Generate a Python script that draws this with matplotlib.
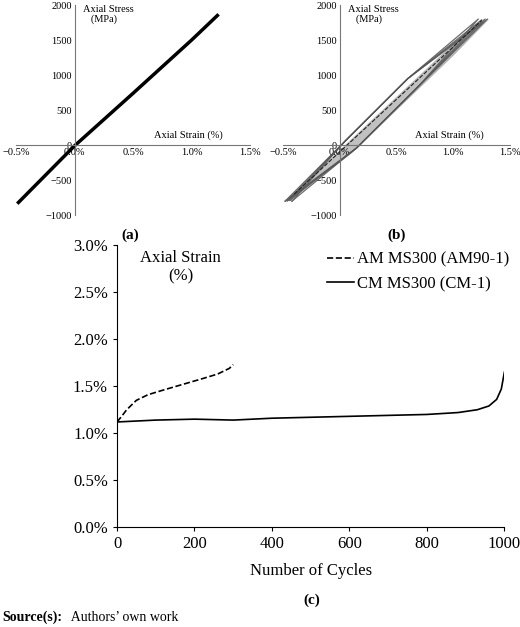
import numpy as np
import matplotlib.pyplot as plt

plt.rcParams['font.family'] = ['Liberation Serif', 'DejaVu Serif']

# (a) stress-strain, essentially a straight line
a_strain = [-0.48, 0.0, 0.5, 1.0, 1.22]
a_stress = [-820, -10, 740, 1500, 1850]

# (b) hysteresis loops
b_min = [-0.48, -0.46, -0.44, -0.42]
b_max = [1.22, 1.25, 1.28, 1.30]
b_stress_min = [-800, -795, -790, -800]
b_stress_max = [1800, 1790, 1800, 1800]

# (c) axial strain vs cycles
am_cycles = [0, 10, 25, 50, 80, 120, 170, 220, 260, 290, 300]
am_strain = [1.12, 1.17, 1.25, 1.35, 1.41, 1.46, 1.52, 1.58, 1.63, 1.69, 1.73]
cm_cycles = [0, 50, 100, 200, 300, 400, 500, 600, 700, 800, 880, 930, 960, 980, 992, 1000]
cm_strain = [1.12, 1.13, 1.14, 1.15, 1.14, 1.16, 1.17, 1.18, 1.19, 1.20, 1.22, 1.25, 1.29, 1.36, 1.47, 1.65]

fig = plt.figure(figsize=(5.2, 6.27), dpi=100)


def style_small(ax):
    ax.set_xlim(-0.5, 1.5)
    ax.set_ylim(-1000, 2000)
    ax.spines['left'].set_position(('data', 0))
    ax.spines['bottom'].set_position(('data', 0))
    ax.spines['right'].set_visible(False)
    ax.spines['top'].set_visible(False)
    for s in ['left', 'bottom']:
        ax.spines[s].set_color('#777777')
    ax.set_xticks([-0.5, 0, 0.5, 1.0, 1.5])
    ax.set_xticklabels(['\u22120.5%', '0.0%', '0.5%', '1.0%', '1.5%'], fontsize=7.5)
    ax.set_yticks([-1000, -500, 0, 500, 1000, 1500, 2000])
    ax.set_yticklabels(['\u22121000', '\u2212500', '0', '500', '1000', '1500', '2000'], fontsize=7.5)
    ax.tick_params(length=0, pad=2)
    ax.text(0.07, 2000, 'Axial Stress\n   (MPa)', fontsize=7.5, ha='left', va='top', linespacing=1.1)
    ax.text(1.27, 70, 'Axial Strain (%)', fontsize=7.5, ha='right', va='bottom')


axa = fig.add_axes([0.031, 0.657, 0.45, 0.335])
style_small(axa)
axa.plot(a_strain, a_stress, color='black', lw=2.5)
fig.text(0.25, 0.625, '(a)', fontsize=11, weight='bold', ha='center', va='center')

axb = fig.add_axes([0.544, 0.657, 0.437, 0.335])
style_small(axb)
axb.fill_between([-0.48, 0.1, 1.0, 1.3], [-800, 80, 1450, 1800], [-800, -100, 1300, 1800],
                 color='#999999', alpha=0.6)
for lo, hi, smin, smax in zip(b_min, b_max, b_stress_min, b_stress_max):
    up_x = [lo, 0.05, 0.6, hi]
    up_y = [smin, 60, 950, smax]
    dn_x = [hi, 0.7, 0.15, lo]
    dn_y = [smax, 850, -40, smin]
    axb.plot(up_x + dn_x, up_y + dn_y, color='#555555', lw=0.9, alpha=0.85)
axb.plot([-0.4, 1.25], [-700, 1780], color='#222222', lw=0.8, ls='--')
fig.text(0.762, 0.625, '(b)', fontsize=11, weight='bold', ha='center', va='center')

axc = fig.add_axes([0.225, 0.159, 0.745, 0.45])
axc.plot(am_cycles, am_strain, color='black', lw=1.2, ls='--', label='AM MS300 (AM90-1)')
axc.plot(cm_cycles, cm_strain, color='black', lw=1.2, label='CM MS300 (CM-1)')
axc.set_xlim(0, 1000)
axc.set_ylim(0, 3.0)
axc.set_yticks(np.arange(0, 3.01, 0.5))
axc.set_yticklabels(['%.1f%%' % v for v in np.arange(0, 3.01, 0.5)], fontsize=12)
axc.set_xticks([0, 200, 400, 600, 800, 1000])
axc.tick_params(labelsize=12, length=3)
axc.spines['right'].set_visible(False)
axc.spines['top'].set_visible(False)
axc.set_xlabel('Number of Cycles', fontsize=12, labelpad=8)
axc.text(60, 2.95, 'Axial Strain\n(%)', fontsize=12, ha='left', va='top', multialignment='center')
axc.legend(loc='upper right', frameon=False, fontsize=12, handlelength=1.6, handletextpad=0.2,
           borderaxespad=0.0, bbox_to_anchor=(1.03, 1.0))
fig.text(0.6, 0.043, '(c)', fontsize=11, weight='bold', ha='center', va='center')

fig.text(0.005, 0.005, 'Source(s):', fontsize=10, weight='bold', ha='left', va='bottom')
fig.text(0.13, 0.005, ' Authors\u2019 own work', fontsize=10, ha='left', va='bottom')

fig.savefig('out.png', dpi=100)
